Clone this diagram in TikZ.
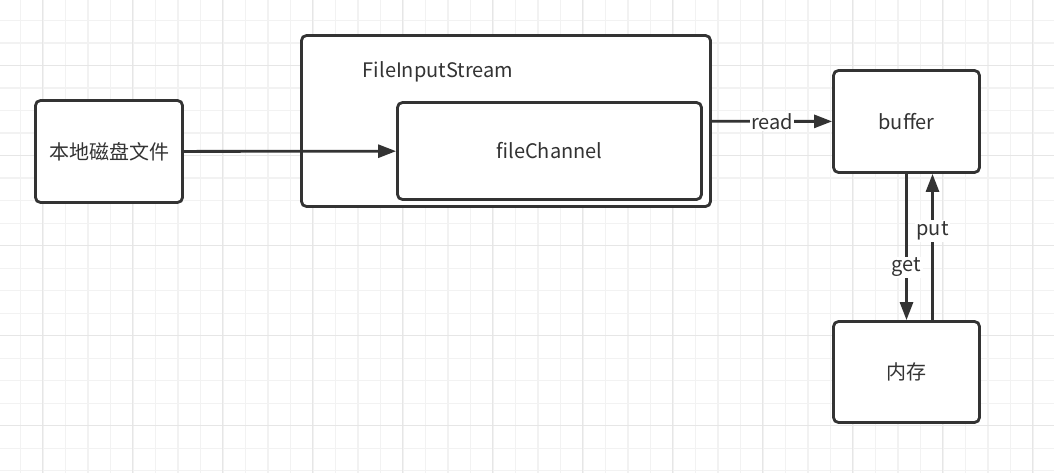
\documentclass[tikz,border=0pt]{standalone}
\usepackage{fontspec}
\setmainfont{Noto Sans CJK SC}
\usepackage{xcolor}
\usepackage{tikz}
\usetikzlibrary{arrows.meta,positioning,calc}

\definecolor{inkgray}{HTML}{333333}
\definecolor{gridminor}{HTML}{F2F2F2}
\definecolor{gridmajor}{HTML}{E6E6E6}

\begin{document}
\begin{tikzpicture}[x=1pt, y=-1pt, font=\fontsize{20}{23}\selectfont, text=inkgray]
    \tikzstyle{block} = [rectangle, draw=inkgray, line width=2.8pt, fill=white, rounded corners=5pt, inner sep=0pt]
    \tikzstyle{line} = [draw=inkgray, line width=2.8pt, -{Triangle[length=18pt, width=13pt]}]
    \tikzstyle{tag} = [fill=white, inner sep=1.5pt]

    % background grid
    \useasboundingbox (0,0) rectangle (1054,473);
    \fill[white] (0,0) rectangle (1054,473);
    \foreach \gx in {20.5,43,...,1054} \draw[gridminor, line width=1.4pt] (\gx,0) -- (\gx,473);
    \foreach \gy in {20.7,43.2,...,473} \draw[gridminor, line width=1.4pt] (0,\gy) -- (1054,\gy);
    \foreach \gx in {42.5,132.5,...,1054} \draw[gridmajor, line width=1.4pt] (\gx,0) -- (\gx,473);
    \foreach \gy in {65.3,155.3,...,473} \draw[gridmajor, line width=1.4pt] (0,\gy) -- (1054,\gy);

    \node [block, minimum width=147pt, minimum height=102pt] (disk) at (109,151.5) {本地磁盘文件};
    \node [block, minimum width=409pt, minimum height=171pt] (stream) at (506,121) {};
    \node (streamlabel) at (438,72) {FileInputStream};
    \node [block, minimum width=304pt, minimum height=97pt] (channel) at (549.5,151) {fileChannel};
    \node [block, minimum width=146pt, minimum height=102pt] (buffer) at (906.5,121.5) {buffer};
    \node [block, minimum width=146pt, minimum height=101pt] (mem) at (906.5,372) {内存};

    \path [line] (disk) -- (channel);
    \path [line] (stream) -- node[tag] {read} (buffer);
    \path [line] (buffer) -- node[tag, pos=0.64] {get} (mem);
    \path [line] ($(mem.north)+(26,0)$) -- node[tag, pos=0.61] {put} ($(buffer.south)+(26,0)$);
\end{tikzpicture}
\end{document}
